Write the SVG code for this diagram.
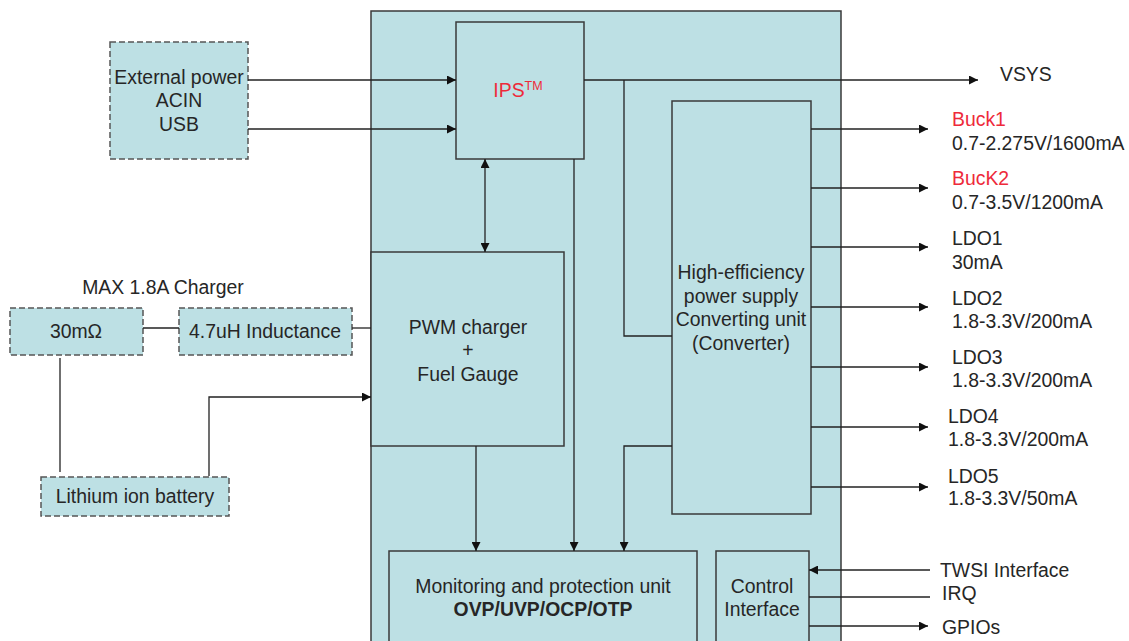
<svg xmlns="http://www.w3.org/2000/svg" width="1129" height="641" viewBox="0 0 1129 641">
<defs>
<style>
.box{fill:#bde0e4;stroke:#3a3a3a;stroke-width:1.5}
.dash{fill:#bde0e4;stroke:#555;stroke-width:1.5;stroke-dasharray:6,3}
.ln{fill:none;stroke:#222;stroke-width:1.3}
.t{font-family:"Liberation Sans",Arial,sans-serif;font-size:19.4px;fill:#262626}
.c{text-anchor:middle}
.red{fill:#ee2a3a}
.b{font-weight:bold}
</style>
<marker id="ah" viewBox="0 0 10 10" refX="10" refY="5" markerWidth="9" markerHeight="9" markerUnits="userSpaceOnUse" orient="auto-start-reverse">
<path d="M0,0 L10,5 L0,10 z" fill="#111"/>
</marker>
</defs>
<rect width="1129" height="641" fill="#fff"/>

<g id="container"><rect class="box" x="371" y="11" width="470" height="645"/></g>

<g id="ext-power">
<rect class="dash" x="110" y="42" width="138" height="117"/>
<text class="t c" x="179" y="84">External power</text>
<text class="t c" x="179" y="107">ACIN</text>
<text class="t c" x="179" y="131">USB</text>
</g>

<g id="ips">
<rect class="box" x="456" y="22" width="128" height="137"/>
<text class="t c red" x="518" y="97">IPS<tspan font-size="12.5" dy="-7">TM</tspan></text>
</g>

<g id="converter">
<rect class="box" x="672" y="101" width="139" height="413"/>
<text class="t c" x="741" y="279">High-efficiency</text>
<text class="t c" x="741" y="303">power supply</text>
<text class="t c" x="741" y="326">Converting unit</text>
<text class="t c" x="741" y="350">(Converter)</text>
</g>

<g id="pwm">
<rect class="box" x="371" y="252" width="193" height="194"/>
<text class="t c" x="468" y="334">PWM charger</text>
<text class="t c" x="468" y="357">+</text>
<text class="t c" x="468" y="381">Fuel Gauge</text>
</g>

<g id="monitor">
<rect class="box" x="389" y="551" width="308" height="100"/>
<text class="t c" x="543" y="593">Monitoring and protection unit</text>
<text class="t c b" x="543" y="616">OVP/UVP/OCP/OTP</text>
</g>

<g id="control">
<rect class="box" x="716" y="551" width="93" height="100"/>
<text class="t c" x="762" y="593">Control</text>
<text class="t c" x="762" y="616">Interface</text>
</g>

<g id="charger-label"><text class="t c" x="163" y="294">MAX 1.8A Charger</text></g>

<g id="resistor">
<rect class="dash" x="10" y="308" width="133" height="47"/>
<text class="t c" x="76" y="338">30mΩ</text>
</g>

<g id="inductor">
<rect class="dash" x="179" y="308" width="173" height="47"/>
<text class="t c" x="265" y="338">4.7uH Inductance</text>
</g>

<g id="battery">
<rect class="dash" x="41" y="477" width="188" height="39"/>
<text class="t c" x="135" y="503">Lithium ion battery</text>
</g>

<g id="outputs">
<text class="t" x="1000" y="81">VSYS</text>
<text class="t red" x="952" y="126">Buck1</text>
<text class="t" x="952" y="150">0.7-2.275V/1600mA</text>
<text class="t red" x="952" y="185">BucK2</text>
<text class="t" x="952" y="209">0.7-3.5V/1200mA</text>
<text class="t" x="952" y="245">LDO1</text>
<text class="t" x="952" y="269">30mA</text>
<text class="t" x="952" y="305">LDO2</text>
<text class="t" x="952" y="328">1.8-3.3V/200mA</text>
<text class="t" x="952" y="364">LDO3</text>
<text class="t" x="952" y="387">1.8-3.3V/200mA</text>
<text class="t" x="948" y="423">LDO4</text>
<text class="t" x="948" y="446">1.8-3.3V/200mA</text>
<text class="t" x="948" y="483">LDO5</text>
<text class="t" x="948" y="505">1.8-3.3V/50mA</text>
<text class="t" x="940" y="577">TWSI Interface</text>
<text class="t" x="942" y="600">IRQ</text>
<text class="t" x="942" y="634">GPIOs</text>
</g>

<g id="connectors">
<path class="ln" d="M248,80 H456" marker-end="url(#ah)"/>
<path class="ln" d="M248,129 H456" marker-end="url(#ah)"/>
<path class="ln" d="M584,80 H978" marker-end="url(#ah)"/>
<path class="ln" d="M624,80 V336 H672"/>
<path class="ln" d="M485,159 V252" marker-start="url(#ah)" marker-end="url(#ah)"/>
<path class="ln" d="M574,159 V551" marker-end="url(#ah)"/>
<path class="ln" d="M476,446 V551" marker-end="url(#ah)"/>
<path class="ln" d="M672,446 H624 V551" marker-end="url(#ah)"/>
<path class="ln" d="M811,129 H928" marker-end="url(#ah)"/>
<path class="ln" d="M811,188 H928" marker-end="url(#ah)"/>
<path class="ln" d="M811,247 H928" marker-end="url(#ah)"/>
<path class="ln" d="M811,307 H928" marker-end="url(#ah)"/>
<path class="ln" d="M811,367 H928" marker-end="url(#ah)"/>
<path class="ln" d="M811,427 H928" marker-end="url(#ah)"/>
<path class="ln" d="M811,487 H928" marker-end="url(#ah)"/>
<path class="ln" d="M930,570 H809" marker-end="url(#ah)"/>
<path class="ln" d="M809,597 H930"/>
<path class="ln" d="M809,626 H928" marker-end="url(#ah)"/>
<path class="ln" d="M143,328 H179"/>
<path class="ln" d="M352,328 H371"/>
<path class="ln" d="M60,358 V472"/>
<path class="ln" d="M209,476 V397 H371" marker-end="url(#ah)"/>
</g>
</svg>
